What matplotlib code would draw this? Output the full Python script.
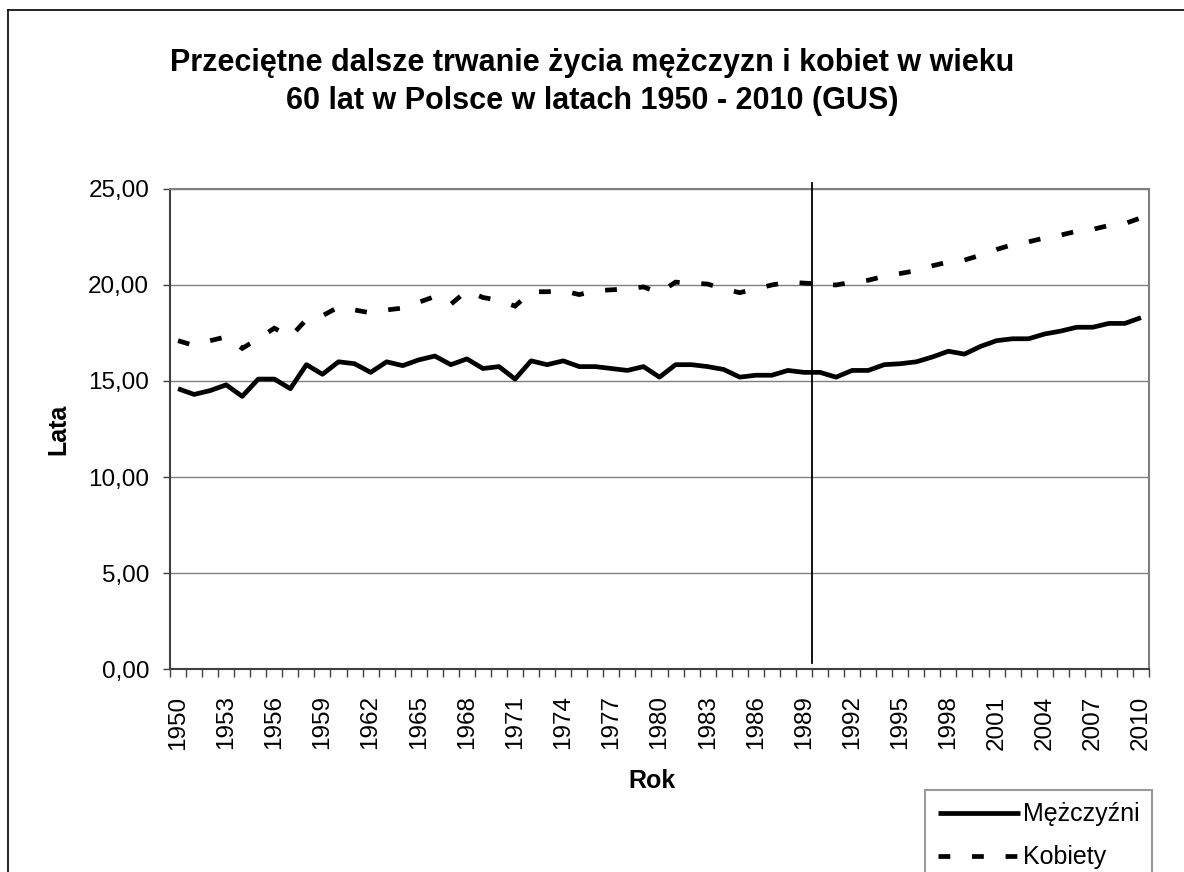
import matplotlib
matplotlib.use('Agg')
import matplotlib.pyplot as plt
from matplotlib.lines import Line2D
from matplotlib.ticker import FuncFormatter

plt.rcParams['font.family'] = ['Liberation Sans', 'DejaVu Sans']

# ---- data ----
years = list(range(1950, 2011))
men = [14.6, 14.3, 14.5, 14.8, 14.2, 15.1, 15.1, 14.6, 15.85, 15.35,
       16.0, 15.9, 15.45, 16.0, 15.8, 16.1, 16.3, 15.85, 16.15, 15.65,
       15.75, 15.1, 16.05, 15.85, 16.05, 15.75, 15.75, 15.65, 15.55, 15.75,
       15.2, 15.85, 15.85, 15.75, 15.6, 15.2, 15.3, 15.3, 15.55, 15.45,
       15.45, 15.2, 15.55, 15.55, 15.85, 15.9, 16.0, 16.25, 16.55, 16.4,
       16.8, 17.1, 17.2, 17.2, 17.45, 17.6, 17.8, 17.8, 18.0, 18.0,
       18.3]
women = [17.1, 16.85, 17.1, 17.3, 16.7, 17.2, 17.75, 17.3, 18.2, 18.4,
         18.85, 18.7, 18.55, 18.7, 18.8, 19.1, 19.4, 19.0, 19.7, 19.35,
         19.2, 18.9, 19.65, 19.65, 19.7, 19.5, 19.7, 19.75, 19.8, 19.9,
         19.6, 20.15, 20.1, 20.05, 19.8, 19.6, 19.8, 20.0, 20.15, 20.1,
         20.05, 20.0, 20.15, 20.25, 20.45, 20.6, 20.75, 21.0, 21.2, 21.3,
         21.55, 21.85, 22.1, 22.25, 22.45, 22.6, 22.8, 22.9, 23.1, 23.2,
         23.5]
tick_years = years[::3]
y_ticks = [0, 5, 10, 15, 20, 25]
series_labels = ['Mężczyźni', 'Kobiety']
title = ('Przeciętne dalsze trwanie życia mężczyzn i kobiet w wieku\n'
         '60 lat w Polsce w latach 1950 - 2010 (GUS)')
marker_after_year = 1989  # vertical line between 1989 and 1990

W, H = 1184, 872
fig = plt.figure(figsize=(W / 100, H / 100), dpi=100)
ax = fig.add_axes([170 / W, 1 - 669 / H, 979 / W, 480 / H])

x = list(range(len(years)))
l1, = ax.plot(x, men, color='black', lw=3.4, solid_joinstyle='round',
              solid_capstyle='butt', label=series_labels[0], zorder=3)
l2, = ax.plot(x, women, color='black', lw=3.4, linestyle=(0, (2.5, 4.6)),
              dash_capstyle='butt', dash_joinstyle='miter',
              label=series_labels[1], zorder=3)

xv = years.index(marker_after_year) + 0.5
ax.axvline(xv, ymin=0.3 / 25, ymax=25.3 / 25, color='black', lw=1.3,
           clip_on=False, zorder=4)

ax.set_xlim(-0.5, len(years) - 0.5)
ax.set_ylim(0, 25)

# y axis
ax.set_yticks(y_ticks)
ax.yaxis.set_major_formatter(FuncFormatter(lambda v, p: f'{v:.2f}'.replace('.', ',')))
ax.tick_params(axis='y', direction='out', length=5, width=1, color='#404040',
               pad=10, labelsize=17.5)
ax.yaxis.grid(True, color='#808080', lw=1)
ax.set_axisbelow(True)

# x axis: tick marks at category boundaries, labels at categories
ax.set_xticks([i - 0.5 for i in range(len(years) + 1)])
ax.tick_params(axis='x', which='major', direction='out', length=6, width=1,
               color='#404040', labelbottom=False)
ax.set_xticks([years.index(y) for y in tick_years],
              labels=[str(y) for y in tick_years], minor=True)
ax.tick_params(axis='x', which='minor', length=0, pad=19, labelsize=17.5,
               labelrotation=90)

for s in ['left', 'bottom']:
    ax.spines[s].set_color('#404040')
    ax.spines[s].set_linewidth(1.5)
for s in ['top', 'right']:
    ax.spines[s].set_color('#808080')
    ax.spines[s].set_linewidth(1.5)

ax.set_ylabel('Lata', fontsize=18, fontweight='bold')
ax.yaxis.set_label_coords(-0.102, 0.5)
ax.set_xlabel('Rok', fontsize=18, fontweight='bold')
ax.xaxis.set_label_coords(0.492, -0.208)

fig.text(0.5, 1 - 82 / H, title, ha='center', va='center', fontsize=22,
         fontweight='bold', linespacing=1.39)

# outer chart border
fig.add_artist(Line2D([8 / W, 1], [1 - 10 / H] * 2, transform=fig.transFigure,
                      color='black', lw=1.2))
fig.add_artist(Line2D([8 / W] * 2, [0, 1 - 10 / H], transform=fig.transFigure,
                      color='black', lw=1.2))

leg = fig.legend(handles=[l1, l2], loc='upper left',
                 bbox_to_anchor=(925 / W, 1 - 790 / H), fontsize=18,
                 frameon=True, fancybox=False, edgecolor='#808080',
                 handlelength=3.3, handletextpad=0.12, labelspacing=0.75,
                 borderpad=0.5, borderaxespad=0)
leg.get_frame().set_linewidth(1.5)

fig.savefig('out.png', dpi=100)
